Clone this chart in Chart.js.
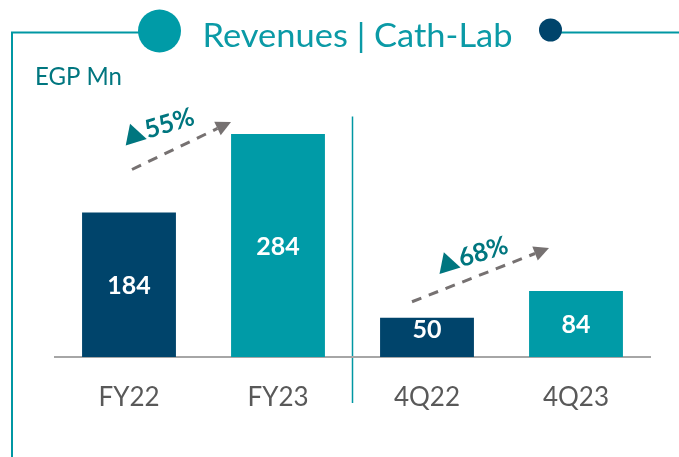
<!DOCTYPE html>
<html>
<head>
<meta charset="utf-8">
<script src="https://cdn.jsdelivr.net/npm/chart.js@4.4.1/dist/chart.umd.min.js"></script>
<style>
  html, body { margin: 0; padding: 0; background: #ffffff; }
  #wrap { width: 679px; height: 457px; position: relative; }
  canvas { display: block; }
</style>
</head>
<body>
<div id="wrap"><canvas id="c" width="679" height="457"></canvas></div>
<script>
// ---- data ----
const categories = ['FY22', 'FY23', '4Q22', '4Q23'];
const revenues = [184, 284, 50, 84];
const growthLabels = ['55%', '68%'];
const titleText = 'Revenues | Cath-Lab';
const unitText = 'EGP Mn';

// ---- styles ----
const NAVY = '#00446B';
const TEAL = '#009BA7';
const FRAME = '#0097A3';
const DARK_TEAL = '#00767F';
const GRAY_ARROW = '#767171';
const barColors = [NAVY, TEAL, NAVY, TEAL];

function fitText(ctx, text, x, y, width, font, color) {
  ctx.save();
  ctx.font = font;
  ctx.fillStyle = color;
  ctx.textAlign = 'left';
  ctx.textBaseline = 'alphabetic';
  const w = ctx.measureText(text).width;
  ctx.translate(x, y);
  ctx.scale(width / w, 1);
  ctx.fillText(text, 0, 0);
  ctx.restore();
}

function dashedArrow(ctx, sx, sy, tx, ty) {
  const ang = Math.atan2(ty - sy, tx - sx);
  const dx = Math.cos(ang), dy = Math.sin(ang);
  const headLen = 15, headW = 15;
  const bx = tx - dx * headLen, by = ty - dy * headLen;
  ctx.save();
  ctx.strokeStyle = GRAY_ARROW;
  ctx.fillStyle = GRAY_ARROW;
  ctx.lineWidth = 3;
  ctx.setLineDash([10, 8]);
  ctx.beginPath();
  ctx.moveTo(sx, sy);
  ctx.lineTo(bx, by);
  ctx.stroke();
  ctx.setLineDash([]);
  ctx.beginPath();
  ctx.moveTo(tx, ty);
  ctx.lineTo(bx - dy * headW / 2, by + dx * headW / 2);
  ctx.lineTo(bx + dy * headW / 2, by - dx * headW / 2);
  ctx.closePath();
  ctx.fill();
  ctx.restore();
}

function growthLabel(ctx, ax, ay, text) {
  ctx.save();
  ctx.translate(ax, ay);
  ctx.rotate(-17 * Math.PI / 180);
  ctx.fillStyle = DARK_TEAL;
  ctx.beginPath();
  ctx.moveTo(0, 0);
  ctx.lineTo(22, 0);
  ctx.lineTo(10.5, -19.5);
  ctx.closePath();
  ctx.fill();
  ctx.font = 'bold 25.5px Lato';
  ctx.textBaseline = 'alphabetic';
  ctx.textAlign = 'left';
  ctx.fillText(text, 23, 0);
  ctx.restore();
}

const decor = {
  id: 'decor',
  beforeDraw(chart) {
    const ctx = chart.ctx;
    ctx.save();
    ctx.fillStyle = '#ffffff';
    ctx.fillRect(0, 0, chart.width, chart.height);
    // frame lines
    ctx.strokeStyle = FRAME;
    ctx.lineWidth = 2;
    ctx.beginPath();
    ctx.moveTo(12, chart.height);
    ctx.lineTo(12, 32.5);
    ctx.lineTo(140, 32.5);
    ctx.stroke();
    ctx.beginPath();
    ctx.moveTo(558, 32.5);
    ctx.lineTo(chart.width, 32.5);
    ctx.stroke();
    // circles
    ctx.fillStyle = TEAL;
    ctx.beginPath();
    ctx.arc(159.5, 31, 21.5, 0, Math.PI * 2);
    ctx.fill();
    ctx.fillStyle = NAVY;
    ctx.beginPath();
    ctx.arc(550.5, 30, 11.5, 0, Math.PI * 2);
    ctx.fill();
    ctx.restore();
    // title & unit
    fitText(ctx, titleText, 202.5, 47.3, 310, '33px Lato', '#0B9AA6');
    fitText(ctx, unitText, 35, 85, 87, '24.5px Lato', DARK_TEAL);
    // separator between annual and quarterly groups
    const xs = chart.scales.x;
    const sepX = (xs.getPixelForValue(1) + xs.getPixelForValue(2)) / 2;
    ctx.save();
    ctx.strokeStyle = FRAME;
    ctx.lineWidth = 1.5;
    ctx.beginPath();
    ctx.moveTo(sepX, chart.chartArea.top - 5);
    ctx.lineTo(sepX, 403);
    ctx.stroke();
    ctx.restore();
  },
  afterDatasetsDraw(chart) {
    const ctx = chart.ctx;
    const xScale = chart.scales.x, yScale = chart.scales.y;
    const xs = categories.map((_, i) => xScale.getPixelForValue(i));
    const tops = revenues.map(v => yScale.getPixelForValue(v));
    const base = yScale.getPixelForValue(0);
    // value labels
    ctx.save();
    ctx.fillStyle = '#ffffff';
    ctx.font = 'bold 25px Lato';
    ctx.textAlign = 'center';
    ctx.textBaseline = 'middle';
    revenues.forEach((v, i) => {
      const yy = Math.min((tops[i] + base) / 2 + 1, base - 27);
      ctx.fillText(String(v), xs[i], yy);
    });
    ctx.restore();
    // growth arrows
    dashedArrow(ctx, xs[0] + 3, tops[0] - 43, xs[1] - 47, tops[1] - 12);
    growthLabel(ctx, xs[0] - 3.3, tops[0] - 67, growthLabels[0]);
    dashedArrow(ctx, xs[2] - 15, tops[2] - 16, xs[3] - 27, tops[3] - 43);
    growthLabel(ctx, xs[2] + 12.5, tops[2] - 43.7, growthLabels[1]);
  }
};

new Chart(document.getElementById('c'), {
  type: 'bar',
  data: {
    labels: categories,
    datasets: [{
      data: revenues,
      backgroundColor: barColors,
      borderWidth: 0,
      barPercentage: 0.63,
      categoryPercentage: 1
    }]
  },
  options: {
    responsive: false,
    animation: false,
    devicePixelRatio: 1,
    layout: { padding: { left: 54.5, right: 28.5, top: 121.4, bottom: 18.8 } },
    plugins: { legend: { display: false }, tooltip: { enabled: false }, title: { display: false } },
    scales: {
      x: {
        grid: { display: false, drawTicks: false, tickLength: 0 },
        border: { display: true, color: '#A6A6A6', width: 2 },
        ticks: { color: '#595959', font: { family: 'Lato', size: 26 }, padding: 25, maxRotation: 0 }
      },
      y: {
        display: false,
        min: 0,
        max: 300
      }
    }
  },
  plugins: [decor]
});
</script>
</body>
</html>
